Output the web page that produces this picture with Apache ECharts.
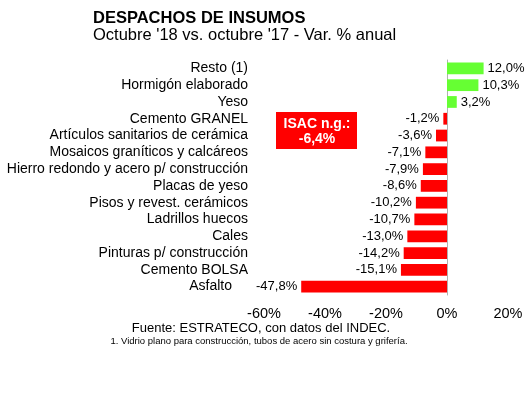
<!DOCTYPE html>
<html lang="es">
<head>
    <meta charset="UTF-8">
    <script type="text/javascript" src="https://cdn.jsdelivr.net/npm/echarts@6/dist/echarts.min.js"></script>
    <title>Despachos de insumos</title>
    <style>
        html, body { margin: 0; padding: 0; background: #fff; }
        #chart { width: 530px; height: 399px; }
    </style>
</head>
<body>
    <div id="chart"></div>
<script>
    var categories = ['Resto (1)', 'Hormigón elaborado', 'Yeso', 'Cemento GRANEL',
        'Artículos sanitarios de cerámica', 'Mosaicos graníticos y calcáreos',
        'Hierro redondo y acero p/ construcción', 'Placas de yeso',
        'Pisos y revest. cerámicos', 'Ladrillos huecos', 'Cales',
        'Pinturas p/ construcción', 'Cemento BOLSA', 'Asfalto']
    var variacion = [12.0, 10.3, 3.2, -1.2, -3.6, -7.1, -7.9, -8.6, -10.2, -10.7, -13.0, -14.2, -15.1, -47.8]
    var xTicks = [-60, -40, -20, 0, 20]
    var isacLines = ['ISAC n.g.:', '-6,4%']

    var font = "'Liberation Sans', Arial, sans-serif"
    var red = '#ff0000'
    var green = '#66ff33'

    function fmt(v){
        return v.toFixed(1).replace('.', ',') + '%'
    }

    var barData = variacion.map(function(v){
        return {
            value: v,
            itemStyle: { color: v < 0 ? red : green },
            label: { position: v < 0 ? 'left' : 'right' }
        }
    })

    var chart = echarts.init(document.getElementById('chart'))
    chart.setOption({
        animation: false,
        textStyle: { fontFamily: font },
        title: [{
            text: 'DESPACHOS DE INSUMOS',
            left: 93,
            top: 10,
            padding: 0,
            textStyle: { fontSize: 16.5, fontWeight: 'bold', color: '#000', fontFamily: font }
        }, {
            text: "Octubre '18 vs. octubre '17 - Var. % anual",
            left: 93,
            top: 27,
            padding: 0,
            textStyle: { fontSize: 16.5, fontWeight: 'normal', color: '#000', fontFamily: font }
        }],
        grid: { left: 264, right: 22, top: 60, bottom: 104, containLabel: false, outerBoundsMode: 'none' },
        xAxis: {
            type: 'value',
            min: xTicks[0],
            max: xTicks[xTicks.length - 1],
            interval: 20,
            axisLine: { show: false },
            axisTick: { show: false },
            splitLine: { show: false },
            axisLabel: {
                margin: 11,
                fontSize: 14.5,
                color: '#000',
                fontFamily: font,
                hideOverlap: false,
                formatter: function(v){ return v + '%' }
            }
        },
        yAxis: {
            type: 'category',
            inverse: true,
            data: categories,
            axisLine: { lineStyle: { color: '#b0b0b0' } },
            axisTick: { length: 3, lineStyle: { color: '#b0b0b0' } },
            axisLabel: {
                interval: 0,
                margin: 16,
                fontSize: 14,
                color: '#000',
                fontFamily: font,
                formatter: function(v){
                    return v == 'Asfalto' ? '{a|' + v + '}' : v
                },
                rich: {
                    a: { fontSize: 14, color: '#000', fontFamily: font, padding: [0, 16, 0, 0] }
                }
            }
        },
        series: [{
            type: 'bar',
            data: barData,
            barWidth: '70%',
            label: {
                show: true,
                distance: 4,
                fontSize: 13,
                color: '#000',
                fontFamily: font,
                formatter: function(p){ return fmt(p.value) }
            }
        }],
        graphic: [{
            type: 'rect',
            left: 276,
            top: 112,
            shape: { width: 81, height: 37 },
            style: { fill: red }
        }, {
            type: 'text',
            x: 317,
            y: 124,
            style: {
                text: isacLines[0],
                fill: '#fff',
                font: 'bold 14px ' + font,
                textAlign: 'center',
                textVerticalAlign: 'middle'
            }
        }, {
            type: 'text',
            x: 317,
            y: 139,
            style: {
                text: isacLines[1],
                fill: '#fff',
                font: 'bold 14px ' + font,
                textAlign: 'center',
                textVerticalAlign: 'middle'
            }
        }, {
            type: 'text',
            x: 261,
            y: 328,
            style: {
                text: 'Fuente: ESTRATECO, con datos del INDEC.',
                fill: '#000',
                font: '13px ' + font,
                textAlign: 'center',
                textVerticalAlign: 'middle'
            }
        }, {
            type: 'text',
            x: 259,
            y: 341,
            style: {
                text: '1. Vidrio plano para construcción, tubos de acero sin costura y grifería.',
                fill: '#000',
                font: '9.5px ' + font,
                textAlign: 'center',
                textVerticalAlign: 'middle'
            }
        }]
    })
</script>
</body>
</html>
